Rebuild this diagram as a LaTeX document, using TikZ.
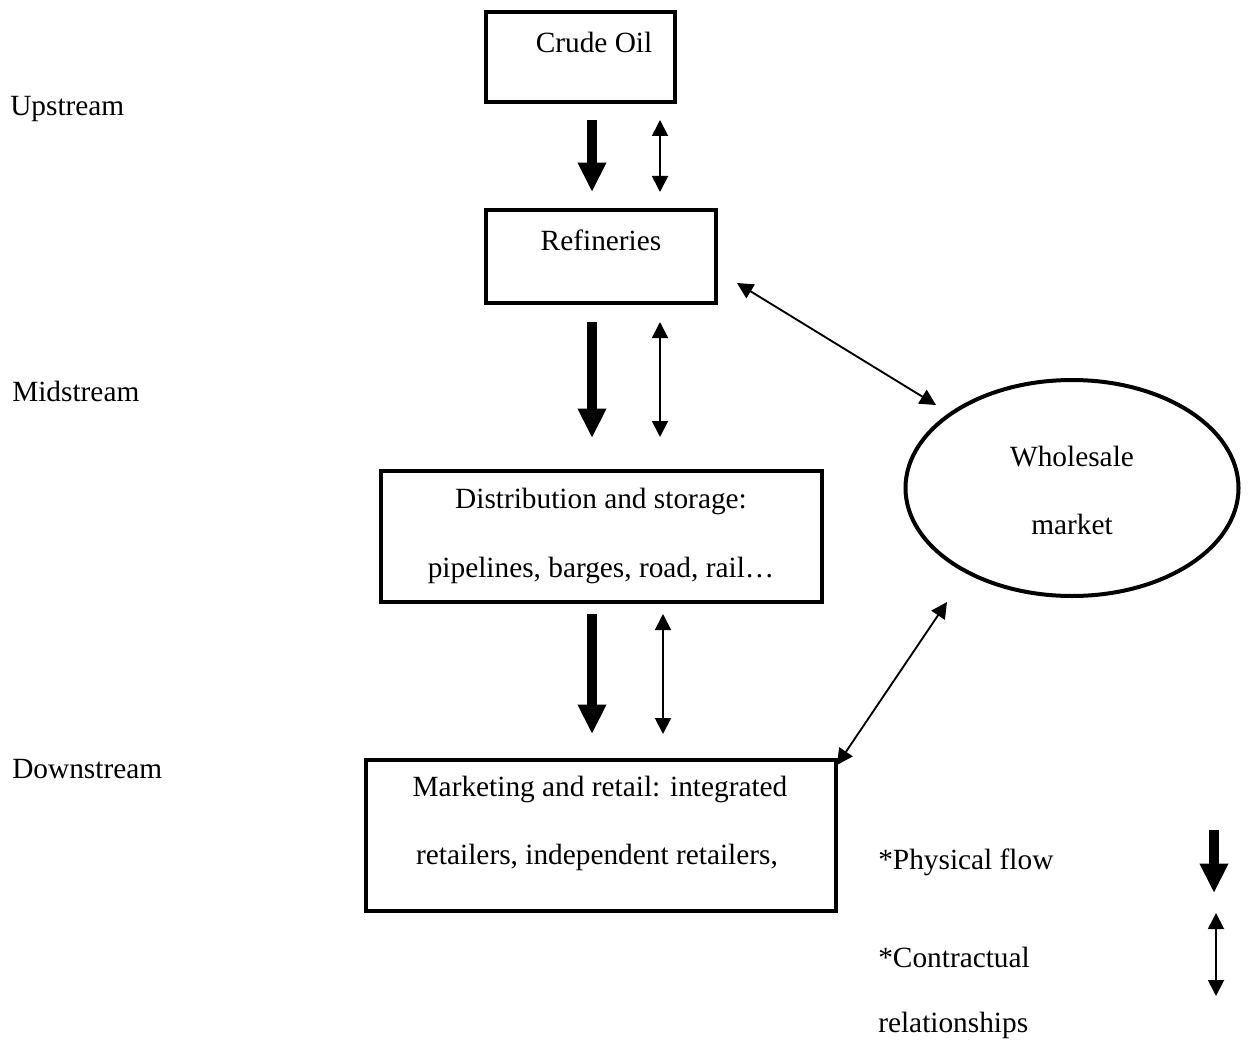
\documentclass[tikz,border=0pt]{standalone}
\usepackage{fontspec}
\setmainfont{Liberation Serif}
\usetikzlibrary{arrows.meta,shapes.geometric}
\begin{document}
\begin{tikzpicture}[x=0.75pt,y=-0.75pt,
  every node/.style={font=\fontsize{22}{26}\selectfont},
  stagebox/.style={draw,line width=3pt,rectangle,inner sep=0pt},
  boxtext/.style={anchor=center,inner sep=0pt},
  lbl/.style={anchor=west,inner sep=0pt},
  physflow/.style={line width=7.5pt,-{Triangle[length=22pt,width=20pt]}},
  contract/.style={line width=1.4pt,{Triangle[length=12pt,width=12pt]}-{Triangle[length=12pt,width=12pt]}}]
\useasboundingbox (0,0) rectangle (1248,1041);
% boxes
\node[stagebox,minimum width=189*0.75pt,minimum height=90*0.75pt] (crude) at (580.5,57) {};
\node[boxtext] at (594,42) {Crude Oil};
\node[stagebox,minimum width=230*0.75pt,minimum height=93*0.75pt] (ref) at (601,256.5) {};
\node[boxtext] at (601,240) {Refineries};
\node[stagebox,minimum width=441*0.75pt,minimum height=131*0.75pt] (dist) at (601.5,536.5) {};
\node[boxtext] at (601,501) {Distribution and storage:};
\node[boxtext] at (601,570) {pipelines, barges, road, rail\dots};
\node[stagebox,minimum width=470*0.75pt,minimum height=151*0.75pt] (mkt) at (601,835.5) {};
\node[boxtext] at (600,789) {Marketing and retail: integrated};
\node[boxtext] at (597,857) {retailers, independent retailers,};
\node[draw,line width=3pt,ellipse,minimum width=333*0.75pt,minimum height=216*0.75pt,inner sep=0pt] (whole) at (1072,488) {};
\node[boxtext] at (1072,457) {Wholesale};
\node[boxtext] at (1072,524) {market};
% stage labels
\node[lbl] (up) at (10,109) {Upstream};
\node[lbl] (mid) at (12,391) {Midstream};
\node[lbl] (down) at (12,769) {Downstream};
% coordinates for arrows
\coordinate (a1s) at (592,120); \coordinate (a1e) at (592,192);
\coordinate (b1s) at (660,120); \coordinate (b1e) at (660,192);
\coordinate (a2s) at (592,322); \coordinate (a2e) at (592,438);
\coordinate (b2s) at (660,322); \coordinate (b2e) at (660,437);
\coordinate (a3s) at (592,614); \coordinate (a3e) at (592,734);
\coordinate (b3s) at (663,614); \coordinate (b3e) at (663,734);
\draw[physflow] (a1s) -- (a1e);
\draw[contract] (b1s) -- (b1e);
\draw[physflow] (a2s) -- (a2e);
\draw[contract] (b2s) -- (b2e);
\draw[physflow] (a3s) -- (a3e);
\draw[contract] (b3s) -- (b3e);
\coordinate (d1s) at (737,283); \coordinate (d1e) at (936,405);
\coordinate (d2s) at (837,765); \coordinate (d2e) at (947,602);
\draw[contract] (d1s) -- (d1e);
\draw[contract] (d2s) -- (d2e);
% legend
\node[lbl] (lp) at (878,862) {*Physical flow};
\node[lbl] (lc) at (878,957) {*Contractual};
\node[lbl] (lr) at (878,1025) {relationships};
\coordinate (l1s) at (1214,830); \coordinate (l1e) at (1214,893);
\coordinate (l2s) at (1216,913); \coordinate (l2e) at (1216,996);
\draw[physflow] (l1s) -- (l1e);
\draw[contract] (l2s) -- (l2e);
\end{tikzpicture}
\end{document}
